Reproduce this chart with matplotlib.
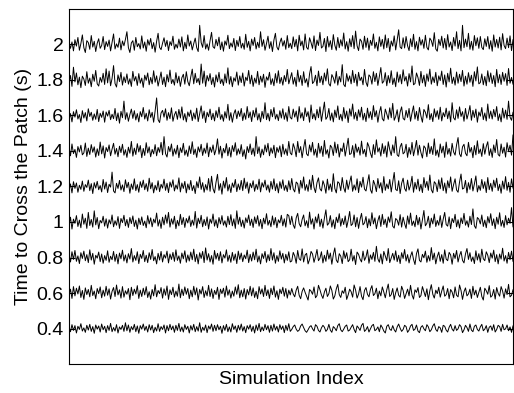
import numpy as np
import matplotlib
matplotlib.use("Agg")
import matplotlib.pyplot as plt

plt.rcParams['font.family'] = ['Liberation Sans', 'DejaVu Sans']

# mean crossing time of each patch setting (s)
levels = [0.4, 0.6, 0.8, 1.0, 1.2, 1.4, 1.6, 1.8, 2.0]
ytick_labels = ['0.4', '0.6', '0.8', '1', '1.2', '1.4', '1.6', '1.8', '2']

# per-simulation offsets from the mean (units of OFFSET_UNIT s)
OFFSET_UNIT = 0.0018

s04 = [4,-10,12,-6,9,-14,7,-3,15,-8,
       2,-12,10,-5,13,-9,6,-15,11,-2,
       8,-11,14,-4,7,-13,9,-6,16,-10,
       3,-8,12,-14,5,-3,10,-9,18,-7,
       11,-12,6,-4,13,-10,8,-15,9,-2,
       14,-6,7,-11,12,-5,10,-13,4,-8,
       15,-9,6,-3,11,-14,9,-7,13,-4,
       8,-12,10,-6,16,-9,5,-11,12,-3,
       7,-14,9,-5,13,-10,6,-8,18,-12,
       4,-6,11,-13,8,-2,14,-9,10,-7,
       12,-4,7,-15,9,-6,13,-10,5,-11,
       15,-3,8,-12,10,-5,14,-8,6,-13,
       9,-2,12,-9,7,-14,11,-6,16,-10,
       5,-7,13,-4,9,-12,10,-8,14,-5,
       7,-11,12,-3,8,-13,10,-6,15,-9,
       -3,6,11,-2,-9,-5,8,14,3,-7,
       -12,-4,5,9,-1,-8,12,7,-6,-11,
       2,10,4,-9,-3,13,-5,-12,6,1,
       -7,9,15,-4,-10,-2,7,11,-8,-5,
       4,12,-3,-13,8,2,-6,10,16,-9,
       -4,6,-11,-1,9,13,-7,-3,5,-10,
       11,3,-8,-14,7,12,-2,-6,9,-4,
       -11,5,14,1,-9,-3,10,6,-12,-5,
       8,13,-6,-2,11,-8,-13,4,9,-1,
       -7,12,5,-10,-4,8,15,-3,-9,6,
       2,-12,10,7,-5,-11,4,13,-2,-8,
       9,-6,-1,12,6,-13,-4,10,3,-9,
       14,-5,-10,7,11,-3,-8,5,13,-7,
       -2,9,-12,4,8,-6,12,-11,-3,10,
       6,-9,13,-4,-1,11,-7,5,-12,8]

s06 = [-6,12,-17,20,-9,15,-3,22,-14,8,
       -20,16,-5,11,-12,24,-8,6,-18,14,
       -2,19,-15,9,-10,21,-7,13,-19,5,
       17,-11,25,-6,10,-16,20,-13,7,-4,
       14,-21,18,-8,12,-3,23,-17,9,-11,
       15,-6,20,-14,4,-19,11,-9,26,-12,
       8,-2,17,-16,13,-7,22,-20,10,-5,
       18,-13,6,-10,28,-15,12,-8,19,-4,
       14,-18,9,-12,21,-6,16,-22,11,-3,
       20,-14,7,-9,24,-11,13,-17,8,-5,
       18,-20,12,-2,15,-13,22,-7,10,-16,
       6,-10,19,-4,26,-15,9,-12,14,-19,
       11,-6,21,-9,16,-14,5,-18,20,-3,
       13,-11,24,-8,10,-17,15,-5,22,-13,
       7,-20,12,-2,18,-10,14,-16,9,-6,
       14,-3,-12,9,21,-7,-18,5,16,2,
       -10,-22,11,6,-4,19,-15,-8,24,10,
       -6,-17,3,15,-11,-2,22,8,-19,-9,
       13,27,-5,-14,7,-1,18,-20,-6,12,
       4,-13,25,9,-16,-3,20,-10,-21,8,
       17,-4,-12,11,23,-8,-2,15,-18,6,
       -9,19,3,-15,10,28,-11,-5,14,-20,
       1,16,-7,-13,21,8,-17,-3,12,-9,
       24,-6,-19,10,2,17,-14,-8,20,5,
       -11,13,-21,7,26,-4,-16,9,-2,18,
       -13,6,22,-10,-5,14,-18,11,3,-15,
       19,-7,-12,25,8,-20,4,16,-9,-3,
       12,-17,21,-6,9,-14,2,18,-11,-22,
       15,7,-4,23,-13,-8,11,-19,17,-1,
       -10,20,6,-16,13,-5,27,-12,-7,10]

s08 = [8,-14,18,-6,22,-12,5,-19,15,-3,
       20,-10,9,-16,24,-8,13,-21,7,-2,
       17,-13,11,-18,6,-9,21,-15,4,-7,
       19,-12,10,-20,14,-4,23,-11,8,-17,
       12,-5,28,-14,6,-9,18,-19,10,-3,
       22,-13,7,-16,15,-6,25,-10,3,-20,
       13,-8,19,-14,9,-2,20,-17,11,-6,
       16,-12,24,-9,5,-18,14,-4,21,-15,
       8,-11,17,-7,26,-13,10,-20,15,-3,
       19,-16,30,-8,12,-14,6,-21,22,-5,
       13,-10,18,-17,9,-2,24,-12,7,-15,
       16,-9,11,-19,20,-6,14,-13,8,-4,
       23,-16,10,-11,17,-7,26,-14,5,-20,
       12,-3,19,-15,9,-10,28,-8,15,-18,
       6,-12,21,-5,13,-17,10,-9,18,-14,
       -11,16,5,-18,22,-4,-9,27,-14,8,
       13,-20,-6,19,11,-15,3,25,-10,-2,
       18,-17,7,-12,23,-5,14,-21,9,30,
       -8,-16,12,4,-19,21,-3,15,-13,-7,
       26,-11,6,-22,17,10,-5,-14,20,-9,
       2,24,-18,8,-6,16,-12,35,-4,-15,
       11,-20,19,5,-10,28,-16,-2,13,-8,
       21,-13,7,-19,15,-3,25,-11,9,-17,
       4,18,-6,-22,12,27,-9,-14,10,-1,
       20,-15,6,-11,31,-7,14,-20,3,17,
       -12,9,-18,24,-5,-10,16,8,-21,13,
       -3,22,-14,6,19,-9,-17,11,28,-6,
       15,-12,2,-19,21,-8,12,-15,26,-4,
       -10,18,7,-16,14,-2,23,-13,9,-20,
       11,-5,29,-11,6,-18,16,-7,20,-12]

s10 = [-10,15,-22,9,-4,20,-14,6,-18,25,
       -7,12,-20,30,-11,8,-16,35,-9,14,
       -21,5,-3,18,-13,10,-19,7,-6,22,
       -15,4,-10,17,-20,11,-2,21,-12,8,
       -17,14,-5,19,-14,6,-22,12,-8,16,
       -11,3,-18,20,-6,13,-15,9,-3,28,
       -13,7,-20,15,-9,22,-4,30,-16,10,
       -7,18,-21,5,-12,24,-8,14,-17,11,
       -3,19,-14,6,-10,33,-19,12,-5,21,
       -15,8,-11,16,-22,9,-4,25,-13,7,
       -18,14,-6,20,-10,4,-16,18,-8,23,
       -12,10,-20,35,-7,15,-14,6,-19,13,
       -2,22,-11,9,-17,16,-5,20,-13,8,
       -21,12,-6,26,-10,5,-15,19,-9,14,
       -18,7,-3,21,-12,10,-16,24,20,-8,
       18,-9,-20,13,27,-5,-15,8,22,-12,
       4,-18,31,-7,10,-22,16,-3,25,-14,
       9,-19,12,38,-10,-4,20,-16,7,-21,
       15,-2,26,-13,11,-8,19,-17,5,33,
       -11,-6,22,-15,14,-20,8,27,-9,-3,
       17,-18,10,-12,29,-6,13,-21,4,20,
       -14,24,-8,9,-17,16,-1,32,-13,-19,
       11,6,-10,23,-16,15,-5,-20,19,-7,
       28,-11,3,-15,21,-9,14,-22,8,36,
       -12,-4,18,-18,12,-6,25,-14,5,-10,
       20,-17,9,30,-8,-13,16,-21,11,-2,
       24,-15,7,-19,13,-5,27,-10,4,-16,
       18,-8,41,-12,-20,14,9,-6,22,-14,
       6,-18,17,-3,26,-11,10,-21,15,-7,
       29,-13,5,-17,20,-9,12,-4,45,-15]

s12 = [-12,8,-20,15,-6,11,-18,4,-9,17,
       -15,6,-3,20,-13,9,-22,12,-5,16,
       -10,3,-17,22,-8,14,-19,7,-2,45,
       -14,-20,10,-6,19,-11,5,-16,21,-4,
       13,-21,8,-9,24,-13,6,-18,15,-3,
       20,-10,9,-15,26,-7,12,-20,4,-11,
       18,-16,7,-5,23,-12,10,-19,14,-2,
       21,-14,5,-8,27,-17,11,-6,16,-20,
       8,-10,19,-13,3,-22,15,-4,30,-9,
       12,-18,6,-11,25,-15,32,-7,-20,13,
       38,-12,9,-24,17,-5,28,-14,6,-19,
       11,-3,22,-16,8,-10,19,-13,26,-6,
       14,-21,10,-4,18,-15,7,-9,23,-17,
       12,-2,20,-11,5,-18,16,-8,24,-13,
       9,-20,15,-6,21,-12,4,-16,18,-10,
       25,-8,-17,14,9,-22,19,-5,30,-12,
       6,-15,21,-10,35,-3,-19,12,27,-7,
       -14,18,4,-21,23,-11,8,-16,40,-6,
       -20,15,10,-13,28,-4,-18,20,-9,13,
       33,-15,5,-11,24,-19,16,-2,29,-8,
       -14,11,37,-10,-21,19,6,-16,25,-5,
       12,-20,31,-12,8,-7,22,-17,14,44,
       -9,-13,18,-22,10,26,-6,-15,20,-11,
       4,32,-18,13,-8,23,-14,7,-19,28,
       -3,16,-12,36,-10,-20,15,9,-16,21,
       -7,27,-13,11,-21,18,-4,30,-15,6,
       24,-11,-18,14,39,-8,-5,19,-20,12,
       -9,25,-14,8,33,-17,3,-12,22,-6,
       15,-19,28,-10,10,-15,20,-3,26,-13,
       7,-21,17,-8,31,-12,13,-18,24,-5]

s14 = [10,-15,22,-8,5,-20,14,-3,18,-12,
       -6,25,-17,9,-11,20,-4,13,-19,7,
       -14,28,-9,16,-22,11,-2,19,-15,6,
       24,-10,8,-18,15,-5,21,-13,4,-20,
       12,-7,30,-16,9,-11,23,-3,17,-21,
       8,-14,26,-6,13,-18,5,-9,20,-15,
       11,-4,27,-12,45,-8,-19,14,-2,22,
       -16,7,-10,18,-21,10,-5,24,-13,3,
       -17,16,-8,29,-11,6,-20,13,-3,21,
       -14,9,-7,25,-18,12,-4,19,-12,5,
       38,-10,15,-22,8,-6,23,-15,11,-19,
       17,-2,26,-13,7,-9,20,-17,4,-25,
       14,-5,22,-11,9,-16,45,-8,13,-20,
       6,-12,19,-3,24,-15,10,-7,18,-21,
       11,-4,16,-18,21,-10,7,-14,30,-6,
       -12,23,8,-18,30,-5,14,-21,10,36,
       -9,-15,19,-3,27,-13,6,-20,24,-7,
       15,-17,33,-10,4,-22,18,11,-14,28,
       -6,21,-19,9,-2,25,-16,13,40,-11,
       -8,17,-20,22,-4,12,-13,31,-9,5,
       -18,26,14,-7,-21,20,-11,35,-3,10,
       -16,23,-8,16,-19,29,4,-14,19,-6,
       45,-12,-17,13,24,-9,-4,21,-20,11,
       -10,27,-15,7,33,-13,18,-5,-22,16,
       9,-18,25,-8,14,-11,38,-14,3,-19,
       22,-6,15,-20,28,-10,8,-16,24,-3,
       -13,19,42,-9,-18,13,21,-7,-15,27,
       -4,11,-21,17,-12,32,-8,6,-17,23,
       -10,14,29,-14,7,-20,19,-5,36,-11,
       -16,22,-7,12,-19,26,-2,18,-13,50]

s16 = [-14,6,-20,12,-5,18,-11,3,-22,15,
       -8,9,-17,21,-3,10,-15,5,-12,19,
       -19,7,-6,14,-21,11,-2,16,-13,4,
       -10,22,-16,8,-24,13,-7,45,-12,9,
       -18,3,20,-9,15,-14,6,-20,12,-4,
       25,-11,7,-17,18,-6,10,-21,14,55,
       -13,-22,8,16,-5,21,-15,9,-10,24,
       -18,2,13,-12,19,-8,27,-14,6,-20,
       11,-3,17,-16,8,-11,23,-19,5,30,
       -9,14,-22,10,-4,20,-13,7,-17,15,
       -6,26,-12,3,-18,12,-8,35,-15,9,
       -21,5,18,-10,14,-3,22,-16,8,-12,
       28,-7,11,-19,16,-5,24,-14,6,-20,
       13,-9,40,-13,7,-17,19,-4,25,-11,
       4,-16,15,-8,21,-12,9,-18,28,-6,
       -11,20,-5,14,-19,28,-8,9,-16,24,
       -3,12,-21,33,-10,6,-14,19,-7,27,
       -18,11,42,-12,-4,22,-15,8,-20,17,
       -6,30,-13,4,-17,25,-9,14,-22,21,
       -2,36,-11,10,-16,18,-5,26,-14,7,
       -19,23,-8,12,-13,31,-4,15,-21,9,
       28,-10,-17,20,5,-12,24,-7,38,-15,
       -3,18,-20,11,27,-9,-14,16,-6,22,
       -18,8,30,-11,13,-16,25,-2,-21,19,
       10,-8,34,-13,6,-19,21,-5,15,-12,
       26,-17,9,-4,23,-10,14,-20,40,-7,
       -14,18,-9,27,-3,12,-18,22,-11,7,
       31,-15,16,-6,20,-21,11,-2,25,-13,
       8,-17,36,-9,14,-11,19,-4,28,-16,
       5,-20,23,-8,17,-12,45,-5,-15,10]

s18 = [-8,14,-20,40,-6,22,-15,9,-24,12,
       3,-17,26,-10,6,-21,18,-4,30,-12,
       -19,8,-7,21,-14,35,-9,28,-18,5,
       45,-11,-22,16,-5,24,-16,10,-8,19,
       -13,4,-20,27,-3,11,-17,20,-10,6,
       -23,15,-1,22,-15,8,-12,29,-7,13,
       -19,3,25,-14,9,-21,17,-6,31,-11,
       2,-16,23,-9,12,-20,7,18,-13,26,
       -5,-18,10,34,-12,21,-8,5,-15,50,
       -10,28,-20,14,-3,20,-14,8,-22,16,
       -6,24,-11,3,-17,19,-9,38,-13,11,
       -21,7,-4,25,-16,13,-8,22,-19,9,
       -2,30,-12,15,-20,6,-10,27,-15,12,
       -7,18,-23,10,-1,24,-14,4,-18,20,
       -9,29,-11,8,-16,14,-5,33,-12,6,
       23,-13,8,-20,31,-6,14,-17,26,-9,
       4,-22,19,42,-11,-5,15,-18,28,-8,
       12,-15,22,-3,35,-12,-19,17,7,-10,
       27,-16,11,-6,48,-14,-21,20,-4,13,
       -12,30,-8,18,-19,24,-2,9,-15,33,
       -7,-20,16,10,-13,26,-5,21,-17,12,
       39,-10,-4,23,-18,14,-9,29,-14,6,
       -21,25,-7,17,-12,32,-3,11,-19,20,
       -6,44,-15,-11,22,8,-17,27,-9,15,
       -20,19,-4,34,-13,10,-8,24,-18,13,
       -2,28,-14,16,-22,21,-6,37,-11,9,
       -16,25,-10,18,-5,30,-19,12,-13,23,
       -7,15,-20,26,-3,41,-12,-8,19,-15,
       11,-18,29,-6,22,-11,14,-21,33,-9,
       17,-14,24,-4,20,-17,36,-10,8,-13]

s20 = [5,-12,8,-20,15,-5,22,-18,3,30,
       -10,-25,12,6,-15,28,-8,10,-22,4,
       18,-12,-3,25,-16,9,-6,14,-20,7,
       33,-14,2,-9,20,-17,11,-4,16,40,
       -10,-25,5,12,-18,22,-7,3,-14,27,
       -11,8,-21,15,-2,19,-13,6,-24,10,
       35,-9,-16,4,21,-6,13,-19,9,-3,
       26,-15,1,-11,17,-8,24,-20,7,-13,
       30,-5,11,-17,3,20,-10,-22,60,6,
       -9,28,-14,2,-18,12,38,-7,-12,16,
       -4,23,-16,8,-21,11,-2,29,-13,5,
       -8,19,-19,13,-6,25,-11,4,-15,32,
       -9,10,-20,17,-3,22,-14,7,-10,40,
       -6,15,-18,3,26,-12,9,-22,14,35,
       -8,-17,6,20,-5,12,-15,28,-10,4,
       -13,24,-7,16,-20,29,-4,11,-17,33,
       -9,-15,21,6,-12,27,-19,14,-3,38,
       -11,-6,19,-22,25,-8,12,-16,31,-2,
       -18,22,-10,15,-5,36,-14,9,-21,18,
       -7,28,-13,42,-4,-19,17,10,-15,26,
       -9,20,-18,13,-3,33,-12,7,-20,24,
       -6,16,-14,30,-10,19,-22,11,-5,27,
       -17,14,46,-8,-13,21,-11,25,-4,-19,
       18,-7,32,-15,9,-20,23,-2,15,-12,
       29,-9,-17,20,12,-6,37,-14,-21,16,
       -3,26,-11,19,-16,31,-8,8,-19,22,
       -5,40,-13,13,-20,60,-10,17,-7,35,
       -15,10,-18,28,-4,21,-12,25,-9,-16,
       18,-6,25,-14,12,-21,30,-8,16,-11,
       23,-17,34,-3,-13,20,-10,27,-19,15]

series = [s04, s06, s08, s10, s12, s14, s16, s18, s20]

fig = plt.figure(figsize=(5.14, 3.93), dpi=100)
ax = fig.add_axes([69/514, 29/393, 444/514, 355/393])

n_max = 0
for mean, offs in zip(levels, series):
    offs = np.array(offs)
    x = np.arange(1, len(offs) + 1)
    ax.plot(x, mean + offs * OFFSET_UNIT, color='black', lw=0.7)
    n_max = max(n_max, len(offs))

ax.set_xlim(1, n_max)
ax.set_ylim(0.2, 2.2)
ax.set_yticks(levels)
ax.set_yticklabels(ytick_labels, fontsize=14)
ax.set_xticks([])
ax.tick_params(axis='y', direction='in', length=4, right=True, pad=4)
for sp in ax.spines.values():
    sp.set_linewidth(0.8)

ax.set_xlabel('Simulation Index', fontsize=14, labelpad=5)
ax.set_ylabel('Time to Cross the Patch (s)', fontsize=14, labelpad=3)

fig.savefig('out.png', dpi=100)
